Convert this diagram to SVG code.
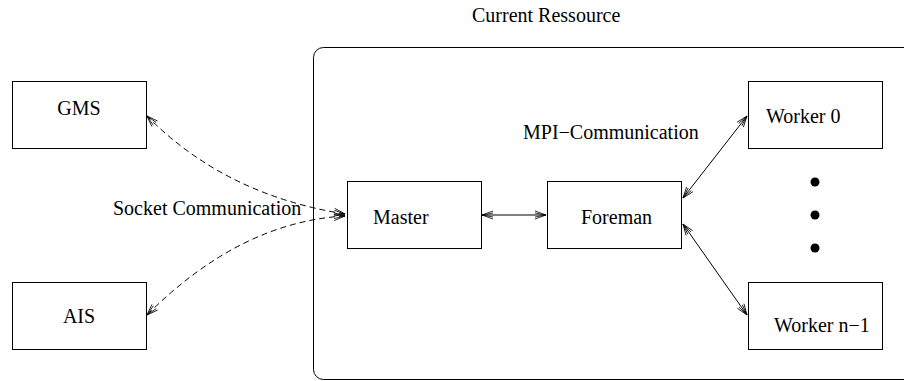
<svg xmlns="http://www.w3.org/2000/svg" width="904" height="381" viewBox="0 0 904 381">
  <style>
    .box { fill: #fff; stroke: #000; stroke-width: 1; }
    .lbl { font-family: "Liberation Serif", "Times New Roman", serif; font-size: 20px; fill: #000; }
    .link { fill: none; stroke: #000; stroke-width: 1; }
    .dash { stroke-dasharray: 6 4; }
    .dot { fill: #000; }
  </style>
  <defs>
    <marker id="head" markerUnits="userSpaceOnUse" markerWidth="14" markerHeight="10" viewBox="-12 -5 14 10" refX="0" refY="0" orient="auto-start-reverse">
      <path d="M -11,-4 L 0,0 L -11,4 M -11,-2 L 0,0 L -11,2" fill="none" stroke="#000" stroke-width="0.8"/>
    </marker>
  </defs>

  <rect width="904" height="381" fill="#fff"/>

  <!-- resource frame -->
  <g id="resource">
    <rect x="313.5" y="47.5" width="640" height="332" rx="10" ry="10" fill="none" stroke="#000" stroke-width="1"/>
    <text class="lbl" x="472" y="22">Current Ressource</text>
  </g>

  <!-- connectors -->
  <g id="connectors">
    <path class="link dash" d="M 345,214 Q 225,195 147,116" marker-start="url(#head)" marker-end="url(#head)"/>
    <path class="link dash" d="M 345,216 Q 240,222 147,315" marker-start="url(#head)" marker-end="url(#head)"/>
    <path class="link" d="M 482,215 L 546,215" marker-start="url(#head)" marker-end="url(#head)"/>
    <path class="link" d="M 683,198 L 747,116" marker-start="url(#head)" marker-end="url(#head)"/>
    <path class="link" d="M 683,224 L 747,315" marker-start="url(#head)" marker-end="url(#head)"/>
  </g>

  <text class="lbl" x="113" y="215">Socket Communication</text>
  <text class="lbl" x="523" y="139">MPI−Communication</text>

  <g id="gms">
    <rect class="box" x="12.5" y="81.5" width="134" height="67"/>
    <text class="lbl" x="79" y="115" text-anchor="middle">GMS</text>
  </g>
  <g id="ais">
    <rect class="box" x="12.5" y="282.5" width="134" height="67"/>
    <text class="lbl" x="79" y="323" text-anchor="middle">AIS</text>
  </g>
  <g id="master">
    <rect class="box" x="347.5" y="181.5" width="134" height="67"/>
    <text class="lbl" x="373" y="224">Master</text>
  </g>
  <g id="foreman">
    <rect class="box" x="547.5" y="181.5" width="134" height="67"/>
    <text class="lbl" x="581" y="224">Foreman</text>
  </g>
  <g id="worker0">
    <rect class="box" x="748.5" y="81.5" width="134" height="67"/>
    <text class="lbl" x="766" y="123">Worker 0</text>
  </g>
  <g id="workern1">
    <rect class="box" x="748.5" y="282.5" width="134" height="67"/>
    <text class="lbl" x="774" y="332">Worker n−1</text>
  </g>
  <g id="ellipsis">
    <circle class="dot" cx="815" cy="182" r="4.5"/>
    <circle class="dot" cx="815" cy="215" r="4.5"/>
    <circle class="dot" cx="815" cy="248" r="4.5"/>
  </g>
</svg>
